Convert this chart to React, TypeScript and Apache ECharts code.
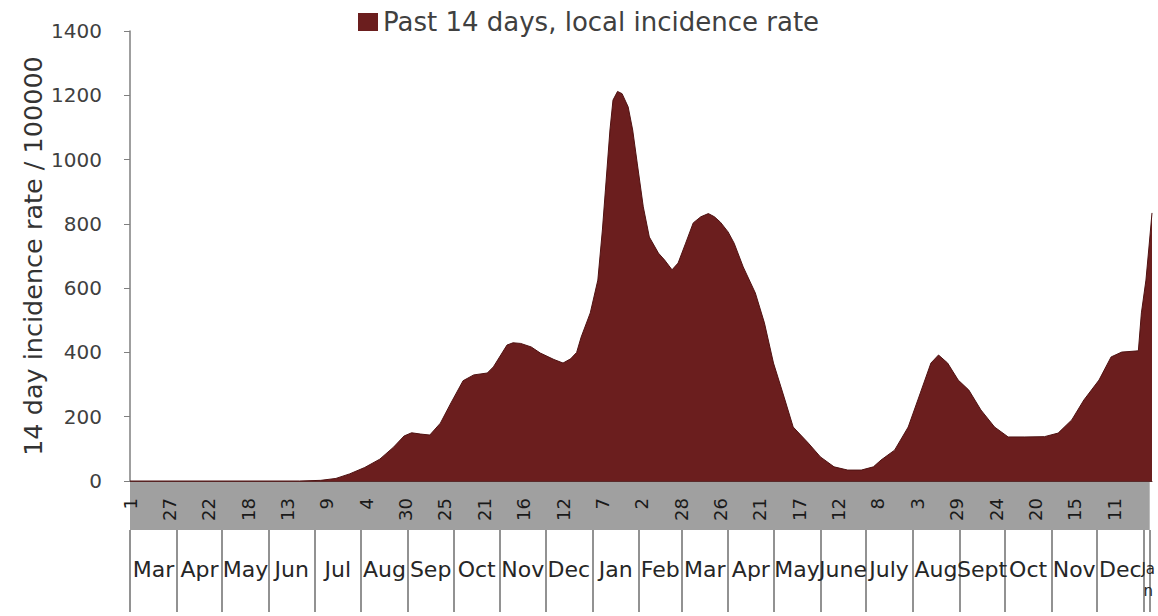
import React, { useEffect, useRef } from "react";
import * as echarts from "echarts";

// Day offsets counted from 1 Mar 2020, with the 14-day incidence rate read at each
const sampleDays = [
  0, 112, 126, 136, 145, 155, 165, 174, 181, 186, 192, 198, 205, 212, 220, 227,
  236, 240, 249, 253, 258, 265, 271, 280, 286, 291, 295, 298, 304, 309, 312, 314,
  317, 319, 322, 325, 329, 332, 335, 339, 343, 349, 353, 358, 362, 367, 372, 377,
  382, 386, 390, 395, 399, 405, 413, 419, 425, 432, 438, 448, 456, 465, 474, 483,
  491, 496, 505, 514, 522, 529, 534, 540, 547, 554, 562, 571, 580, 591, 604, 613,
  622, 630, 640, 648, 655, 666, 668, 671, 673, 675,
];
const incidenceRates = [
  0, 0, 2, 8, 22, 42, 68, 105, 140, 150, 146, 143, 180, 243, 312, 330,
  336, 355, 423, 430, 428, 417, 398, 378, 367, 380, 400, 448, 523, 625, 781, 905,
  1092, 1185, 1212, 1205, 1164, 1092, 989, 853, 759, 709, 688, 657, 678, 740, 803, 822,
  832, 822, 805, 775, 740, 666, 585, 492, 367, 261, 168, 118, 75, 44, 34, 34,
  44, 65, 96, 168, 274, 367, 392, 367, 314, 283, 221, 168, 137, 137, 138, 149,
  190, 252, 314, 386, 401, 405, 523, 625, 728, 834,
];

const lastDay = 675;

// Day-of-month tick labels, one every 26 days from day 0
const dayTickStep = 26;
const dayTickLabels = [
  "1", "27", "22", "18", "13", "9", "4", "30", "25", "21", "16", "12", "7",
  "2", "28", "26", "21", "17", "12", "8", "3", "29", "24", "20", "15", "11",
];

// Month row: first day offset of each month and its label
const monthStarts = [
  0, 31, 61, 92, 122, 153, 184, 214, 245, 275, 306, 337, 365, 396, 426, 457,
  487, 518, 549, 579, 610, 640, 671,
];
const monthLabels = [
  "Mar", "Apr", "May", "Jun", "Jul", "Aug", "Sep", "Oct", "Nov", "Dec", "Jan",
  "Feb", "Mar", "Apr", "May", "June", "July", "Aug", "Sept", "Oct", "Nov", "Dec",
  "Ja\nn",
];

const seriesName = "Past 14 days, local incidence rate";
const yTitle = "14 day incidence rate / 100000";

export default function App() {
  const ref = useRef<HTMLDivElement>(null);

  useEffect(() => {
    if (!ref.current) return;
    const chart = echarts.init(ref.current, undefined, { renderer: "svg" });

    const dayTickValues = dayTickLabels.map((_, i) => i * dayTickStep);
    const monthBounds = [...monthStarts, lastDay];
    const lastMonth = monthStarts.length - 1;
    const monthMids = monthStarts.map((s, i) =>
      i === lastMonth ? s + 3 : (s + monthBounds[i + 1]) / 2
    );

    const font = "DejaVu Sans";

    chart.setOption({
      animation: false,
      backgroundColor: "#ffffff",
      textStyle: { fontFamily: font },
      legend: {
        show: true,
        left: 353,
        top: 4,
        icon: "rect",
        itemWidth: 20,
        itemHeight: 18,
        itemGap: 6,
        textStyle: { fontSize: 26, color: "#404040", fontFamily: font },
        data: [seriesName],
      },
      grid: [
        { left: 130, right: 6, top: 31, height: 450, containLabel: false },
        {
          left: 130,
          right: 6,
          top: 481,
          height: 49,
          show: true,
          backgroundColor: "#a0a0a0",
          borderWidth: 0,
          containLabel: false,
        },
      ],
      xAxis: [
        {
          type: "value",
          gridIndex: 0,
          min: 0,
          max: lastDay,
          splitLine: { show: false },
          axisLine: { show: true, lineStyle: { color: "#5a2a2a", width: 1 } },
          axisTick: { show: false },
          axisLabel: {
            customValues: dayTickValues,
            rotate: 90,
            margin: 17,
            fontSize: 18,
            color: "#1a1a1a",
            fontFamily: font,
            showMinLabel: true,
            showMaxLabel: true,
            formatter: (v: number) => dayTickLabels[Math.round(v / dayTickStep)] ?? "",
          },
        },
        {
          type: "value",
          gridIndex: 1,
          min: 0,
          max: lastDay,
          position: "bottom",
          splitLine: { show: false },
          axisLine: { show: false },
          axisTick: {
            show: true,
            customValues: monthBounds,
            length: 82,
            lineStyle: { color: "#6e6e6e", width: 1.5 },
          },
          axisLabel: {
            customValues: monthMids,
            margin: 28,
            fontSize: 22,
            color: "#262626",
            fontFamily: font,
            hideOverlap: false,
            showMinLabel: true,
            showMaxLabel: true,
            rich: { small: { fontSize: 15, color: "#262626", fontFamily: font, lineHeight: 22 } },
            formatter: (v: number) => {
              const i = monthMids.findIndex((m) => Math.abs(m - v) < 0.01);
              if (i < 0) return "";
              return i === lastMonth ? "{small|" + monthLabels[i] + "}" : monthLabels[i];
            },
          },
        },
      ],
      yAxis: [
        {
          type: "value",
          gridIndex: 0,
          min: 0,
          max: 1400,
          interval: 200,
          name: yTitle,
          nameLocation: "middle",
          nameRotate: 90,
          nameGap: 84,
          nameMoveOverlap: false,
          nameTextStyle: { fontSize: 25.5, color: "#333333", fontFamily: font },
          splitLine: { show: false },
          axisLine: { show: true, lineStyle: { color: "#7f7f7f", width: 1.5 } },
          axisTick: { show: true, length: 6, lineStyle: { color: "#7f7f7f" } },
          axisLabel: {
            margin: 28,
            fontSize: 20,
            color: "#404040",
            fontFamily: font,
            formatter: (v: number) => String(v),
          },
        },
        { type: "value", gridIndex: 1, show: false, min: 0, max: 1 },
      ],
      series: [
        {
          name: seriesName,
          type: "line",
          xAxisIndex: 0,
          yAxisIndex: 0,
          data: sampleDays.map((d, i) => [d, incidenceRates[i]]),
          showSymbol: false,
          symbol: "none",
          itemStyle: { color: "#6b1e1e" },
          lineStyle: { color: "#4f1212", width: 1 },
          areaStyle: { color: "#6b1e1e", opacity: 1 },
        },
      ],
    });

    return () => chart.dispose();
  }, []);

  return (
    <div
      ref={ref}
      style={{ position: "fixed", left: 0, top: 0, width: 1158, height: 616, background: "#fff" }}
    />
  );
}
